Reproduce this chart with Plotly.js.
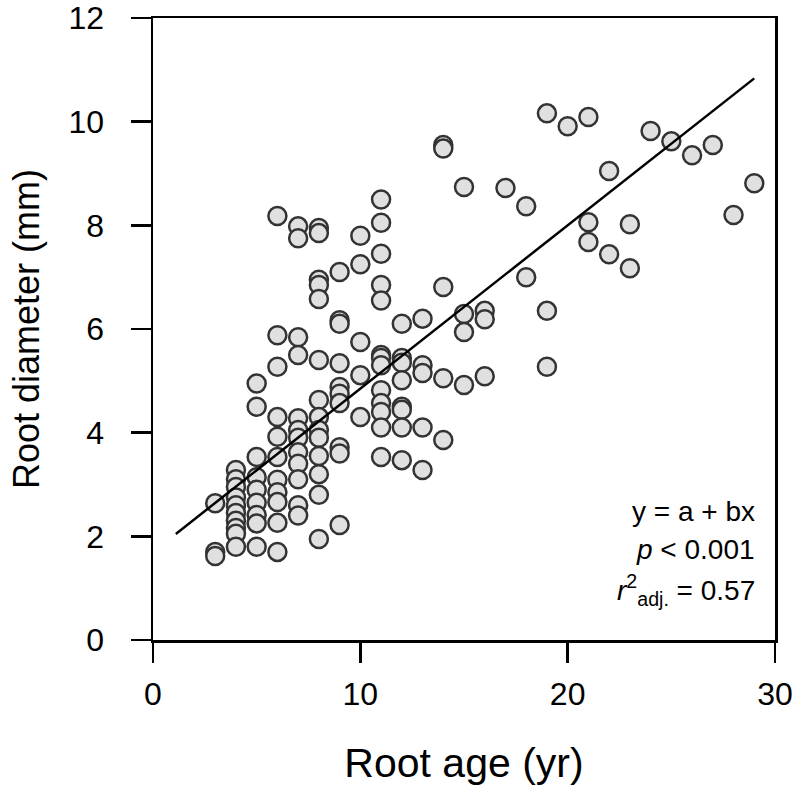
<!DOCTYPE html>
<html>
<head>
<meta charset="utf-8">
<script src="https://cdn.plot.ly/plotly-3.0.1.min.js"></script>
<style>html,body{margin:0;padding:0;background:#fff;}#chart{width:800px;height:798px;}</style>
</head>
<body>
<div id="chart"></div>
<script>
// Root age (yr) for each observation
const rootAge = [
  3,3,3,
  4,4,4,4,4,4,4,4,4,4,
  5,5,5,5,5,5,5,5,5,
  6,6,6,6,6,6,6,6,6,6,6,
  7,7,7,7,7,7,7,7,7,7,7,7,
  8,8,8,8,8,8,8,8,8,8,8,8,8,8,
  9,9,9,9,9,9,9,9,9,9,
  10,10,10,10,10,
  11,11,11,11,11,11,11,11,11,11,11,11,11,
  12,12,12,12,12,12,12,12,
  13,13,13,13,13,
  14,14,14,14,14,
  15,15,15,15,
  16,16,16,
  17,
  18,18,
  19,19,19,
  20,
  21,21,21,
  22,22,
  23,23,
  24,25,26,27,28,29
];
// Root diameter (mm) for each observation
const rootDiameter = [
  2.64,1.70,1.62,
  3.28,3.10,2.95,2.75,2.60,2.45,2.30,2.16,2.05,1.80,
  4.95,4.50,3.53,3.14,2.90,2.65,2.41,2.25,1.80,
  8.18,5.88,5.27,4.30,3.92,3.53,3.09,2.85,2.66,2.26,1.70,
  7.98,7.75,5.84,5.50,4.28,4.05,3.90,3.62,3.40,3.10,2.60,2.40,
  7.95,7.85,6.95,6.85,6.58,5.40,4.63,4.30,4.05,3.90,3.55,3.20,2.80,1.95,
  7.10,6.17,6.10,5.34,4.88,4.75,4.57,3.72,3.60,2.22,
  7.80,7.25,5.75,5.11,4.30,
  8.50,8.05,7.45,6.85,6.55,5.50,5.44,5.30,4.82,4.57,4.40,4.10,3.53,
  6.10,5.44,5.35,5.01,4.50,4.44,4.10,3.47,
  6.20,5.30,5.15,4.10,3.28,
  9.55,9.48,6.81,5.05,3.86,
  8.74,6.29,5.94,4.92,
  6.35,6.19,5.09,
  8.72,
  8.37,7.00,
  10.16,6.35,5.27,
  9.91,
  10.09,8.06,7.68,
  9.05,7.44,
  8.02,7.17,
  9.82,9.62,9.35,9.55,8.20,8.81
];
// Fitted regression y = a + b x
const fitA = 1.70;
const fitB = 0.315;
const fitRange = [1.1, 29];

const fitX = fitRange;
const fitY = fitRange.map(x => fitA + fitB * x);

const font = "Arial, 'Liberation Sans', sans-serif";

const traces = [
  {
    x: rootAge, y: rootDiameter, type: 'scatter', mode: 'markers',
    marker: {symbol: 'circle', size: 18, color: '#e0e0e0', line: {color: '#333333', width: 2.5}},
    hoverinfo: 'x+y', showlegend: false, cliponaxis: false
  },
  {
    x: fitX, y: fitY, type: 'scatter', mode: 'lines',
    line: {color: '#000000', width: 2.5}, showlegend: false
  }
];

const axisCommon = {
  showgrid: false, zeroline: false, showline: true, mirror: true,
  linecolor: '#000', linewidth: 2.5,
  ticks: 'outside', ticklen: 20, tickwidth: 2.5, tickcolor: '#000',
  ticklabeloverflow: 'allow',
  tickfont: {family: font, size: 32, color: '#000'}
};

const layout = {
  width: 800, height: 798,
  margin: {l: 153, r: 25, t: 18, b: 158},
  paper_bgcolor: '#fff', plot_bgcolor: '#fff',
  font: {family: font, color: '#000'},
  xaxis: Object.assign({}, axisCommon, {
    range: [0, 30], tickvals: [0, 10, 20, 30], ticktext: ['0', '10', '20', '30'],
    ticklabelstandoff: 4,
    title: {text: 'Root age (yr)', font: {family: font, size: 41, color: '#000'}, standoff: 38}
  }),
  yaxis: Object.assign({}, axisCommon, {
    range: [0, 12], tickvals: [0, 2, 4, 6, 8, 10, 12], ticktext: ['0','2','4','6','8','10','12'],
    ticklabelstandoff: 20,
    title: {text: 'Root diameter (mm)', font: {family: font, size: 36, color: '#000'}, standoff: 18}
  }),
  annotations: [
    {xref: 'paper', yref: 'paper', x: 0.971, y: 0.206, xanchor: 'right', yanchor: 'middle',
     text: 'y = a + bx', showarrow: false, font: {family: font, size: 28, color: '#000'}},
    {xref: 'paper', yref: 'paper', x: 0.971, y: 0.145, xanchor: 'right', yanchor: 'middle',
     text: '<i>p</i> < 0.001', showarrow: false, font: {family: font, size: 28, color: '#000'}},
    {xref: 'paper', yref: 'paper', x: 0.971, y: 0.080, xanchor: 'right', yanchor: 'middle',
     text: '<i>r</i><sup>2</sup><sub>adj.</sub> = 0.57', showarrow: false, font: {family: font, size: 28, color: '#000'}}
  ]
};

Plotly.newPlot('chart', traces, layout, {displayModeBar: false, staticPlot: true});
</script>
</body>
</html>
